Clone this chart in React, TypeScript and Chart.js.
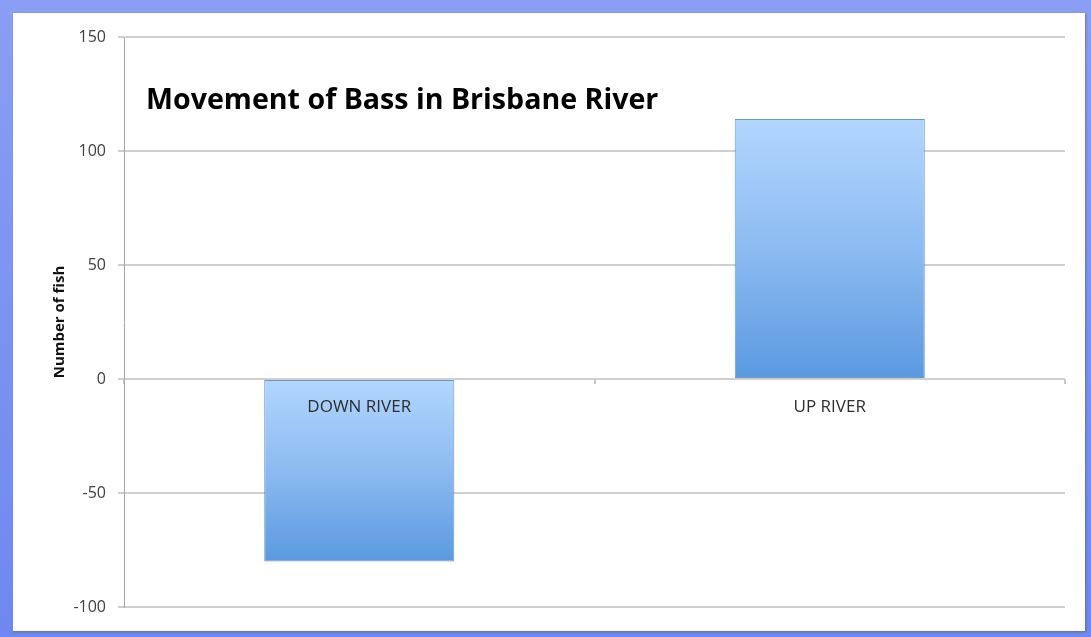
import React, { useEffect, useRef } from "react";
import { Chart, registerables } from "chart.js";

Chart.register(...registerables);

const categories = ["DOWN RIVER", "UP RIVER"];
const fishCounts = [-80, 114];
const yTicks = [-100, -50, 0, 50, 100, 150];
const chartTitle = "Movement of Bass in Brisbane River";
const yAxisTitle = "Number of fish";

export default function App() {
  const canvasRef = useRef<HTMLCanvasElement | null>(null);

  useEffect(() => {
    const canvas = canvasRef.current;
    if (!canvas) return;
    const chart = new Chart(canvas, {
      type: "bar",
      data: {
        labels: categories,
        datasets: [
          {
            data: fishCounts,
            barPercentage: 0.8,
            categoryPercentage: 0.505,
            borderWidth: 1,
            borderColor: "rgba(60,115,185,0.75)",
            borderSkipped: false,
            backgroundColor: (ctx: any) => {
              const c = ctx.chart;
              const ys = c.scales?.y;
              if (!ys || ctx.raw === undefined) return "#8fbdf2";
              const v = ctx.raw as number;
              const p1 = ys.getPixelForValue(v);
              const p0 = ys.getPixelForValue(0);
              const top = Math.min(p0, p1);
              const bot = Math.max(p0, p1);
              if (!isFinite(top) || !isFinite(bot) || bot - top < 1) return "#8fbdf2";
              const g = c.ctx.createLinearGradient(0, top, 0, bot);
              g.addColorStop(0, "#b2d6fd");
              g.addColorStop(0.5, "#8cbbf1");
              g.addColorStop(1, "#5a99e0");
              return g;
            },
          },
        ],
      },
      options: {
        animation: false,
        responsive: false,
        maintainAspectRatio: false,
        layout: { padding: { top: 24, right: 20, bottom: 24, left: 0 } },
        plugins: {
          legend: { display: false },
          tooltip: { enabled: false },
          title: { display: false },
        },
        scales: {
          x: {
            type: "category",
            position: { y: 0 } as any,
            offset: true,
            grid: {
              display: true,
              drawOnChartArea: false,
              drawTicks: true,
              tickLength: 5,
              color: "#c8c8c8",
              lineWidth: 2,
              offset: true,
            },
            border: { display: false },
            ticks: {
              z: 1,
              color: "#2e2e2e",
              padding: 13,
              font: { family: "Open Sans", size: 17 },
            },
          },
          y: {
            min: -100,
            max: 150,
            afterBuildTicks: (scale: any) => {
              scale.ticks = yTicks.map((v) => ({ value: v }));
            },
            afterFit: (scale: any) => {
              scale.width = 111;
            },
            grid: {
              color: "#cfcfcf",
              lineWidth: 2,
              tickLength: 6,
            },
            border: { display: true, color: "#a8a8a8", width: 1 },
            ticks: {
              color: "#404040",
              padding: 12,
              font: { family: "Open Sans", size: 16 },
            },
            title: {
              display: true,
              text: yAxisTitle,
              color: "#111111",
              padding: { top: 38, bottom: 0 },
              font: { family: "Open Sans", size: 15, weight: "bold" },
            },
          },
        },
      },
    });
    return () => chart.destroy();
  }, []);

  return (
    <div
      style={{
        position: "absolute",
        left: 0,
        top: 0,
        width: 1091,
        height: 637,
        background: "linear-gradient(#8a9ef5, #6f87f0)",
        overflow: "hidden",
      }}
    >
      <div
        style={{
          position: "absolute",
          left: 13,
          top: 13,
          width: 1072,
          height: 618,
          background: "#ffffff",
          boxShadow: "1px 1px 2px rgba(80,80,80,0.5)",
        }}
      >
        <canvas ref={canvasRef} width={1072} height={618} style={{ display: "block" }} />
        <div
          style={{
            position: "absolute",
            left: 133,
            top: 65,
            fontFamily: "Open Sans",
            fontWeight: 700,
            fontSize: 28.6,
            lineHeight: "40px",
            color: "#000000",
            whiteSpace: "nowrap",
          }}
        >
          {chartTitle}
        </div>
      </div>
    </div>
  );
}
